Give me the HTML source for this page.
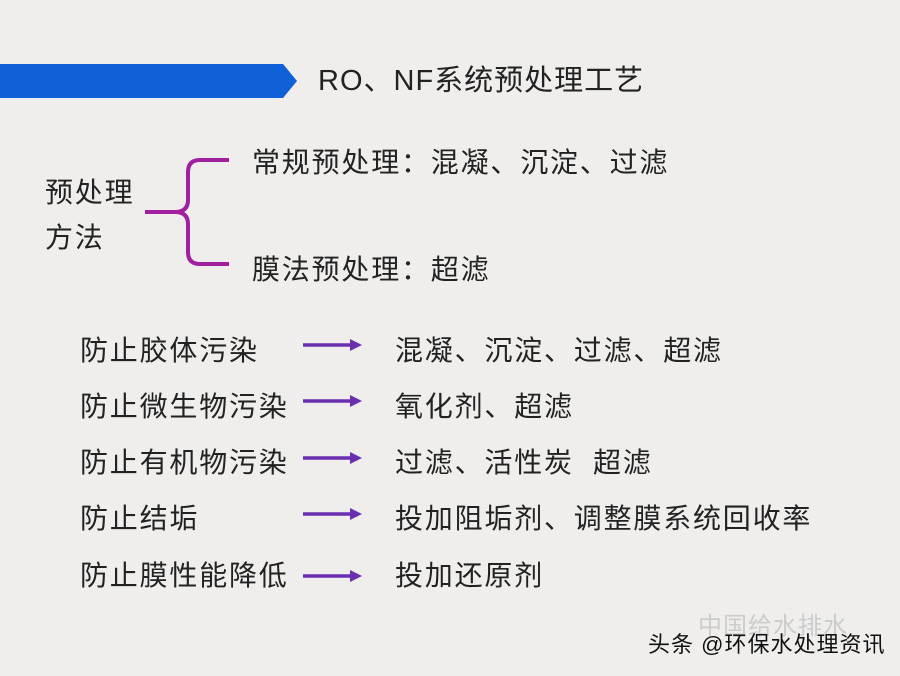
<!DOCTYPE html>
<html><head><meta charset="utf-8"><style>
body{margin:0;width:900px;height:676px;background:#efeeec;position:relative;overflow:hidden;font-family:"Liberation Sans","Noto Sans CJK SC",sans-serif;color:#222}
.t{position:absolute;font-size:28px;letter-spacing:1.8px;line-height:30px;white-space:nowrap}
</style></head><body>
<svg width="900" height="676" style="position:absolute;left:0;top:0">
<polygon points="0,64 283,64 297,81 283,98 0,98" fill="#1060d8"/>
<path d="M229,160 H200 Q188,160 188,172 V200 Q188,212 175,212 H145 M175,212 Q188,212 188,224 V252 Q188,264 200,264 H229" fill="none" stroke="#a0209f" stroke-width="4"/>
<g stroke="#6a2fb0" stroke-width="3.5" fill="#6a2fb0">
<line x1="303" y1="345" x2="352" y2="345"/><polygon points="362,345 350,339 350,351" stroke="none"/>
<line x1="303" y1="401" x2="352" y2="401"/><polygon points="362,401 350,395 350,407" stroke="none"/>
<line x1="303" y1="458" x2="352" y2="458"/><polygon points="362,458 350,452 350,464" stroke="none"/>
<line x1="303" y1="514" x2="352" y2="514"/><polygon points="362,514 350,508 350,520" stroke="none"/>
<line x1="303" y1="576" x2="352" y2="576"/><polygon points="362,576 350,570 350,582" stroke="none"/>
</g>
</svg>
<div class="t" style="left:318px;top:66px;font-size:29px;letter-spacing:1px">RO、NF系统预处理工艺</div>
<div class="t" style="left:252px;top:148px">常规预处理：混凝、沉淀、过滤</div>
<div class="t" style="left:45px;top:178px">预处理</div>
<div class="t" style="left:45px;top:223px">方法</div>
<div class="t" style="left:252px;top:255px">膜法预处理：超滤</div>
<div class="t" style="left:80px;top:336px">防止胶体污染</div>
<div class="t" style="left:395px;top:336px">混凝、沉淀、过滤、超滤</div>
<div class="t" style="left:80px;top:392px">防止微生物污染</div>
<div class="t" style="left:395px;top:392px">氧化剂、超滤</div>
<div class="t" style="left:80px;top:448px">防止有机物污染</div>
<div class="t" style="left:395px;top:448px">过滤、活性炭&nbsp;&nbsp;超滤</div>
<div class="t" style="left:80px;top:504px">防止结垢</div>
<div class="t" style="left:395px;top:504px">投加阻垢剂、调整膜系统回收率</div>
<div class="t" style="left:80px;top:561px">防止膜性能降低</div>
<div class="t" style="left:395px;top:561px">投加还原剂</div>
<div class="t" style="left:698px;top:612px;font-size:24px;letter-spacing:1px;color:#ccc">中国给水排水</div>
<div class="t" style="left:648px;top:630px;font-size:22px;letter-spacing:1px;color:#111">头条 @环保水处理资讯</div>
</body></html>
